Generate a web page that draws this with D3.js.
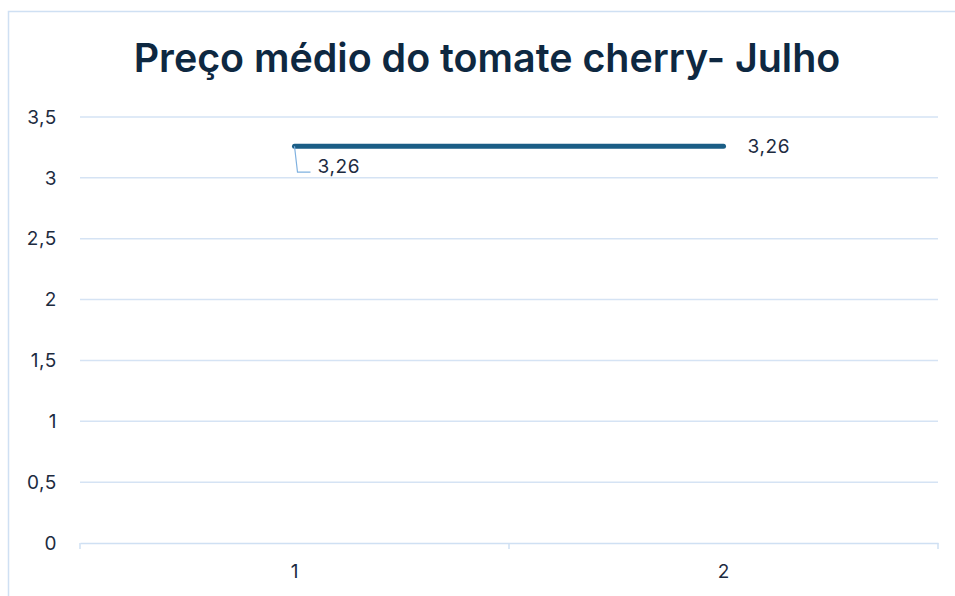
<!DOCTYPE html>
<html>
<head>
<meta charset="utf-8">
<script src="https://cdn.jsdelivr.net/npm/d3@7"></script>
<style>
  body { margin: 0; background: #fff; }
  svg { display: block; }
</style>
</head>
<body>
<div id="chart"></div>
<script>
// data
var categories = ['1', '2'];
var prices = [3.26, 3.26];
var yTicks = [0, 0.5, 1, 1.5, 2, 2.5, 3, 3.5];
var chartTitle = 'Preço médio do tomate cherry- Julho';

var width = 955, height = 596;
var plot = {left: 80, right: 938, top: 117, bottom: 543};
var fmt = function(d) { return String(d).replace('.', ','); };
var font = 'Inter, "Open Sans", sans-serif';
var labelSize = 19;

var svg = d3.select('#chart').append('svg')
	.attr('width', width)
	.attr('height', height)
	.style('font-family', font);

// chart frame (goes past the window edge like the source)
svg.append('rect')
	.attr('x', 8.5).attr('y', 11.5)
	.attr('width', 960).attr('height', 600)
	.attr('fill', 'white')
	.attr('stroke', '#cfe0f3')
	.attr('stroke-width', 1.5);

svg.append('text')
	.attr('x', 487).attr('y', 72)
	.attr('text-anchor', 'middle')
	.attr('font-size', 39.4)
	.attr('font-weight', 600)
	.attr('fill', '#0e2841')
	.text(chartTitle);

var x = d3.scaleBand().domain(categories).range([plot.left, plot.right]);
var y = d3.scaleLinear().domain([0, 3.5]).range([plot.bottom, plot.top]);

// gridlines
svg.append('g').selectAll('line').data(yTicks.filter(function(d) { return d > 0; })).enter().append('line')
	.attr('x1', plot.left).attr('x2', plot.right)
	.attr('y1', function(d) { return y(d); })
	.attr('y2', function(d) { return y(d); })
	.attr('stroke', '#d5e3f4')
	.attr('stroke-width', 1.5);

// y labels
svg.append('g').selectAll('text').data(yTicks).enter().append('text')
	.attr('x', 57)
	.attr('y', function(d) { return y(d); })
	.attr('dy', '0.35em')
	.attr('text-anchor', 'end')
	.attr('font-size', labelSize)
	.attr('letter-spacing', 0.6)
	.attr('fill', '#1d2b3f')
	.text(fmt);

// x axis with ticks between categories
var xAxis = d3.axisBottom(x).tickSize(0).tickPadding(22);
var gx = svg.append('g').attr('transform', 'translate(0,' + plot.bottom + ')').call(xAxis);
gx.select('.domain').attr('stroke', '#cfe0f3').attr('stroke-width', 1.5);
gx.selectAll('text').attr('font-size', labelSize).attr('fill', '#1d2b3f').attr('font-family', font);
var edges = categories.map(function(c) { return x(c); }).concat([plot.right]);
gx.selectAll('.edge').data(edges).enter().append('line')
	.attr('class', 'edge')
	.attr('x1', function(d) { return d; }).attr('x2', function(d) { return d; })
	.attr('y1', 0).attr('y2', 6)
	.attr('stroke', '#cfe0f3')
	.attr('stroke-width', 1.5);

// the line
var cx = function(d, i) { return x(categories[i]) + x.bandwidth() / 2; };
var line = d3.line().x(cx).y(function(d) { return y(d); });
svg.append('path')
	.datum(prices)
	.attr('d', line)
	.attr('fill', 'none')
	.attr('stroke', '#1b5e86')
	.attr('stroke-width', 5)
	.attr('stroke-linecap', 'round');

// labels
var p0x = cx(prices[0], 0), p0y = y(prices[0]);
svg.append('path')
	.attr('d', 'M' + p0x + ',' + p0y + 'L' + (p0x + 3) + ',' + (p0y + 26) + 'L' + (p0x + 16) + ',' + (p0y + 26))
	.attr('fill', 'none')
	.attr('stroke', '#7fb1e0')
	.attr('stroke-width', 1.2);

svg.append('text')
	.attr('x', p0x + 23).attr('y', p0y + 20)
	.attr('dy', '0.35em')
	.attr('font-size', labelSize)
	.attr('letter-spacing', 0.6)
	.attr('fill', '#1d2b3f')
	.text(fmt(prices[0]));

svg.append('text')
	.attr('x', cx(prices[1], 1) + 24).attr('y', y(prices[1]))
	.attr('dy', '0.35em')
	.attr('font-size', labelSize)
	.attr('letter-spacing', 0.6)
	.attr('fill', '#1d2b3f')
	.text(fmt(prices[1]));
</script>
</body>
</html>
